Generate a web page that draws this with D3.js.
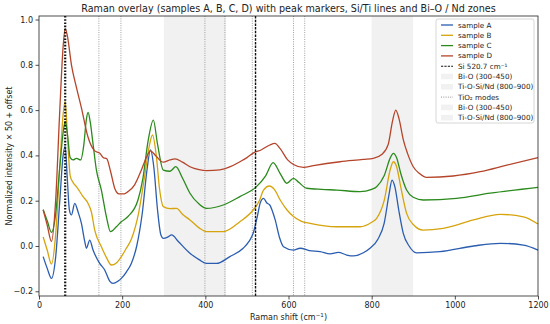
<!DOCTYPE html>
<html>
<head>
<meta charset="utf-8">
<script src="https://cdn.jsdelivr.net/npm/d3@7"></script>
<style>
  body { margin: 0; background: #fff; }
  text { font-family: "DejaVu Sans", sans-serif; fill: #222; }
</style>
</head>
<body>
<div id="chart"></div>
<script>
// Spectra: [shift cm-1, normalized intensity + offset]
const sampleA = [[10,-0.047],[20,-0.1],[30,-0.143],[40,-0.05],[50,0.2],[58,0.4],[63,0.44],[68,0.3],[73,0.16],[78,0.137],[86,0.188],[94,0.15],[102,0.1],[110,0.02],[114,-0.01],[122,0.026],[130,-0.018],[146,-0.077],[158,-0.106],[170,-0.155],[178,-0.165],[190,-0.155],[198,-0.143],[210,-0.115],[222,-0.077],[235,0.0],[248,0.14],[260,0.34],[268,0.424],[276,0.35],[285,0.16],[293,0.05],[299,0.034],[310,0.04],[319,0.049],[335,0.02],[363,-0.032],[385,-0.06],[403,-0.077],[427,-0.077],[459,-0.047],[491,-0.01],[505,0.02],[515,0.056],[525,0.13],[532,0.19],[540,0.21],[548,0.19],[555,0.181],[562,0.15],[568,0.115],[578,0.04],[588,-0.003],[612,-0.018],[628,-0.01],[650,-0.02],[676,-0.025],[700,-0.035],[720,-0.028],[740,-0.04],[756,-0.044],[780,-0.03],[796,-0.01],[815,0.03],[830,0.1],[842,0.23],[849,0.291],[856,0.26],[865,0.16],[876,0.056],[890,0.0],[908,-0.03],[964,-0.025],[1045,0.0],[1109,0.012],[1165,0.004],[1200,-0.018]];
const sampleB = [[10,0.04],[20,-0.02],[30,-0.08],[40,0.05],[50,0.35],[58,0.58],[63,0.64],[68,0.5],[75,0.31],[82,0.28],[90,0.262],[106,0.218],[118,0.188],[126,0.15],[134,0.07],[150,-0.003],[162,-0.05],[174,-0.084],[186,-0.075],[198,-0.047],[210,-0.01],[222,0.03],[240,0.15],[255,0.32],[265,0.44],[273,0.49],[282,0.4],[290,0.25],[299,0.174],[315,0.165],[331,0.166],[345,0.14],[363,0.115],[385,0.08],[403,0.063],[443,0.063],[483,0.107],[515,0.159],[530,0.2],[540,0.247],[554,0.265],[566,0.25],[580,0.203],[596,0.16],[612,0.13],[630,0.11],[652,0.1],[716,0.085],[772,0.085],[800,0.105],[812,0.122],[830,0.2],[845,0.34],[852,0.372],[860,0.35],[870,0.26],[884,0.144],[900,0.095],[924,0.07],[972,0.078],[1045,0.115],[1109,0.14],[1165,0.129],[1200,0.097]];
const sampleC = [[10,0.16],[20,0.11],[30,0.06],[40,0.14],[50,0.35],[58,0.5],[63,0.55],[68,0.5],[75,0.39],[82,0.38],[90,0.387],[100,0.38],[108,0.45],[114,0.56],[118,0.59],[123,0.55],[130,0.45],[138,0.336],[150,0.247],[162,0.13],[172,0.063],[186,0.085],[198,0.107],[214,0.13],[238,0.203],[250,0.3],[262,0.46],[275,0.556],[285,0.45],[299,0.335],[315,0.33],[329,0.35],[345,0.3],[363,0.233],[385,0.185],[403,0.166],[443,0.181],[483,0.218],[523,0.262],[545,0.31],[563,0.368],[580,0.32],[596,0.277],[612,0.299],[625,0.28],[644,0.255],[680,0.25],[716,0.247],[772,0.24],[800,0.25],[812,0.262],[830,0.31],[845,0.39],[852,0.409],[860,0.39],[870,0.32],[884,0.247],[900,0.215],[924,0.203],[1004,0.21],[1085,0.233],[1200,0.259]];
const sampleD = [[10,0.16],[20,0.09],[30,0.02],[40,0.2],[50,0.6],[58,0.88],[63,0.96],[68,0.93],[78,0.8],[90,0.7],[102,0.61],[118,0.48],[134,0.42],[146,0.41],[155,0.39],[163,0.385],[172,0.33],[183,0.25],[192,0.23],[205,0.23],[214,0.24],[230,0.27],[245,0.33],[258,0.39],[268,0.42],[280,0.4],[299,0.37],[315,0.38],[327,0.385],[345,0.37],[363,0.35],[385,0.337],[403,0.333],[435,0.336],[460,0.35],[483,0.372],[500,0.39],[515,0.41],[535,0.425],[555,0.446],[567,0.453],[580,0.43],[598,0.38],[612,0.36],[636,0.347],[660,0.355],[724,0.372],[780,0.382],[804,0.387],[825,0.405],[840,0.45],[850,0.55],[858,0.6],[866,0.56],[876,0.47],[886,0.41],[900,0.35],[915,0.32],[932,0.303],[996,0.309],[1061,0.328],[1125,0.357],[1200,0.39]];

const sampleNames = ['sample A', 'sample B', 'sample C', 'sample D'];
const sampleColors = ['#2a5db0', '#d6a40c', '#2a8a1c', '#b5452a'];

const peakMarkers = [63];
const siLine = 520.7;
const tio2Modes = [144, 197, 399, 447, 513, 612, 639];
const zones = [
  { label: 'Bi-O (300–450)', from: 300, to: 450 },
  { label: 'Ti-O-Si/Nd (800–900)', from: 800, to: 900 }
];
const xTicks = [0, 200, 400, 600, 800, 1000, 1200];
const yTicks = [-0.2, 0, 0.2, 0.4, 0.6, 0.8, 1.0];

const W = 550, H = 324;
const margin = { top: 16, right: 12, bottom: 28, left: 39 };
const width = W - margin.left - margin.right;
const height = H - margin.top - margin.bottom;

const svg = d3.select('#chart').append('svg')
    .attr('width', W)
    .attr('height', H);

const g = svg.append('g')
    .attr('transform', `translate(${margin.left},${margin.top})`);

const x = d3.scaleLinear().domain([0, 1200]).range([0, width]);
const y = d3.scaleLinear().domain([-0.2208, 1.0155]).range([height, 0]);

// shaded zones (drawn twice, like the doubled legend entries)
[0, 1].forEach(() => {
  g.selectAll(null)
    .data(zones)
    .enter().append('rect')
      .attr('x', d => x(d.from))
      .attr('width', d => x(d.to) - x(d.from))
      .attr('y', 0)
      .attr('height', height)
      .attr('fill', '#888')
      .attr('fill-opacity', 0.06);
});

// TiO2 mode lines
g.selectAll('.tio2')
  .data(tio2Modes)
  .enter().append('line')
    .attr('class', 'tio2')
    .attr('x1', d => x(d)).attr('x2', d => x(d))
    .attr('y1', 0).attr('y2', height)
    .attr('stroke', '#888')
    .attr('stroke-width', 0.8)
    .attr('stroke-dasharray', '1,1.3');

// spectra
const samples = [sampleA, sampleB, sampleC, sampleD];
const line = d3.line()
    .x(d => x(d[0]))
    .y(d => y(d[1]))
    .curve(d3.curveMonotoneX);

g.selectAll('.spec')
  .data(samples)
  .enter().append('path')
    .attr('class', 'spec')
    .attr('d', line)
    .attr('fill', 'none')
    .attr('stroke', (d, i) => sampleColors[i])
    .attr('stroke-width', 1.3);

// Si reference line
g.append('line')
    .attr('x1', x(siLine)).attr('x2', x(siLine))
    .attr('y1', 0).attr('y2', height)
    .attr('stroke', '#111')
    .attr('stroke-width', 1.4)
    .attr('stroke-dasharray', '2.5,1.2');

// peak markers
g.selectAll('.peak')
  .data(peakMarkers)
  .enter().append('line')
    .attr('class', 'peak')
    .attr('x1', d => x(d)).attr('x2', d => x(d))
    .attr('y1', 0).attr('y2', height)
    .attr('stroke', '#111')
    .attr('stroke-width', 2.2)
    .attr('stroke-dasharray', '1.6,1.6');

// axes
const xAxis = g.append('g')
    .attr('transform', `translate(0,${height})`)
    .call(d3.axisBottom(x).tickValues(xTicks).tickSize(3.5).tickPadding(2.5)
      .tickFormat(d3.format('d')));
const yAxis = g.append('g')
    .call(d3.axisLeft(y).tickValues(yTicks).tickSize(3.5).tickPadding(2.5)
      .tickFormat(d => d3.format('.1f')(d).replace('-', '−')));

[xAxis, yAxis].forEach(a => {
  a.select('.domain').remove();
  a.selectAll('text').style('font-size', '8px').attr('fill', '#222');
  a.selectAll('line').attr('stroke', '#222').attr('stroke-width', 0.8);
});

g.append('rect')
    .attr('width', width).attr('height', height)
    .attr('fill', 'none')
    .attr('stroke', '#222')
    .attr('stroke-width', 0.8);

// labels
svg.append('text')
    .attr('x', margin.left + width / 2)
    .attr('y', 12)
    .attr('text-anchor', 'middle')
    .style('font-size', '9.6px')
    .text('Raman overlay (samples A, B, C, D) with peak markers, Si/Ti lines and Bi–O / Nd zones');

const xl = svg.append('text')
    .attr('x', margin.left + width / 2)
    .attr('y', 320)
    .attr('text-anchor', 'middle')
    .style('font-size', '8px');
xl.append('tspan').text('Raman shift (cm');
xl.append('tspan').attr('dy', -3).style('font-size', '5.6px').text('−1');
xl.append('tspan').attr('dy', 3).text(')');

svg.append('text')
    .attr('transform', `translate(12,${margin.top + height / 2}) rotate(-90)`)
    .attr('text-anchor', 'middle')
    .style('font-size', '8px')
    .text('Normalized intensity × 50 + offset');

// legend
const legendItems = [
  ...sampleNames.map((n, i) => ({ label: n, type: 'line', color: sampleColors[i] })),
  { label: 'Si 520.7 cm⁻¹', type: 'dash' },
  ...zones.map(z => ({ label: z.label, type: 'patch' })),
  { label: 'TiO₂ modes', type: 'dot' },
  ...zones.map(z => ({ label: z.label, type: 'patch' }))
];

const lg = svg.append('g').attr('transform', 'translate(436,19)');
lg.append('rect')
    .attr('width', 98).attr('height', 104)
    .attr('rx', 2)
    .attr('fill', '#fff').attr('fill-opacity', 0.8)
    .attr('stroke', '#ccc').attr('stroke-width', 0.8);

const rows = lg.selectAll('.row')
  .data(legendItems)
  .enter().append('g')
    .attr('transform', (d, i) => `translate(5,${6 + i * 10.3})`);

rows.filter(d => d.type !== 'patch').append('line')
    .attr('x1', 0).attr('x2', 12)
    .attr('stroke', d => d.type === 'line' ? d.color : (d.type === 'dash' ? '#111' : '#777'))
    .attr('stroke-width', d => d.type === 'line' ? 1.3 : (d.type === 'dash' ? 1.1 : 0.8))
    .attr('stroke-dasharray', d => d.type === 'dash' ? '2.2,1.2' : (d.type === 'dot' ? '1,1.3' : null));

rows.filter(d => d.type === 'patch').append('rect')
    .attr('x', 0).attr('y', -2.8).attr('width', 12).attr('height', 5.6)
    .attr('fill', '#888').attr('fill-opacity', 0.12);

rows.append('text')
    .attr('x', 17)
    .attr('dy', '0.35em')
    .style('font-size', '7.2px')
    .text(d => d.label);
</script>
</body>
</html>
